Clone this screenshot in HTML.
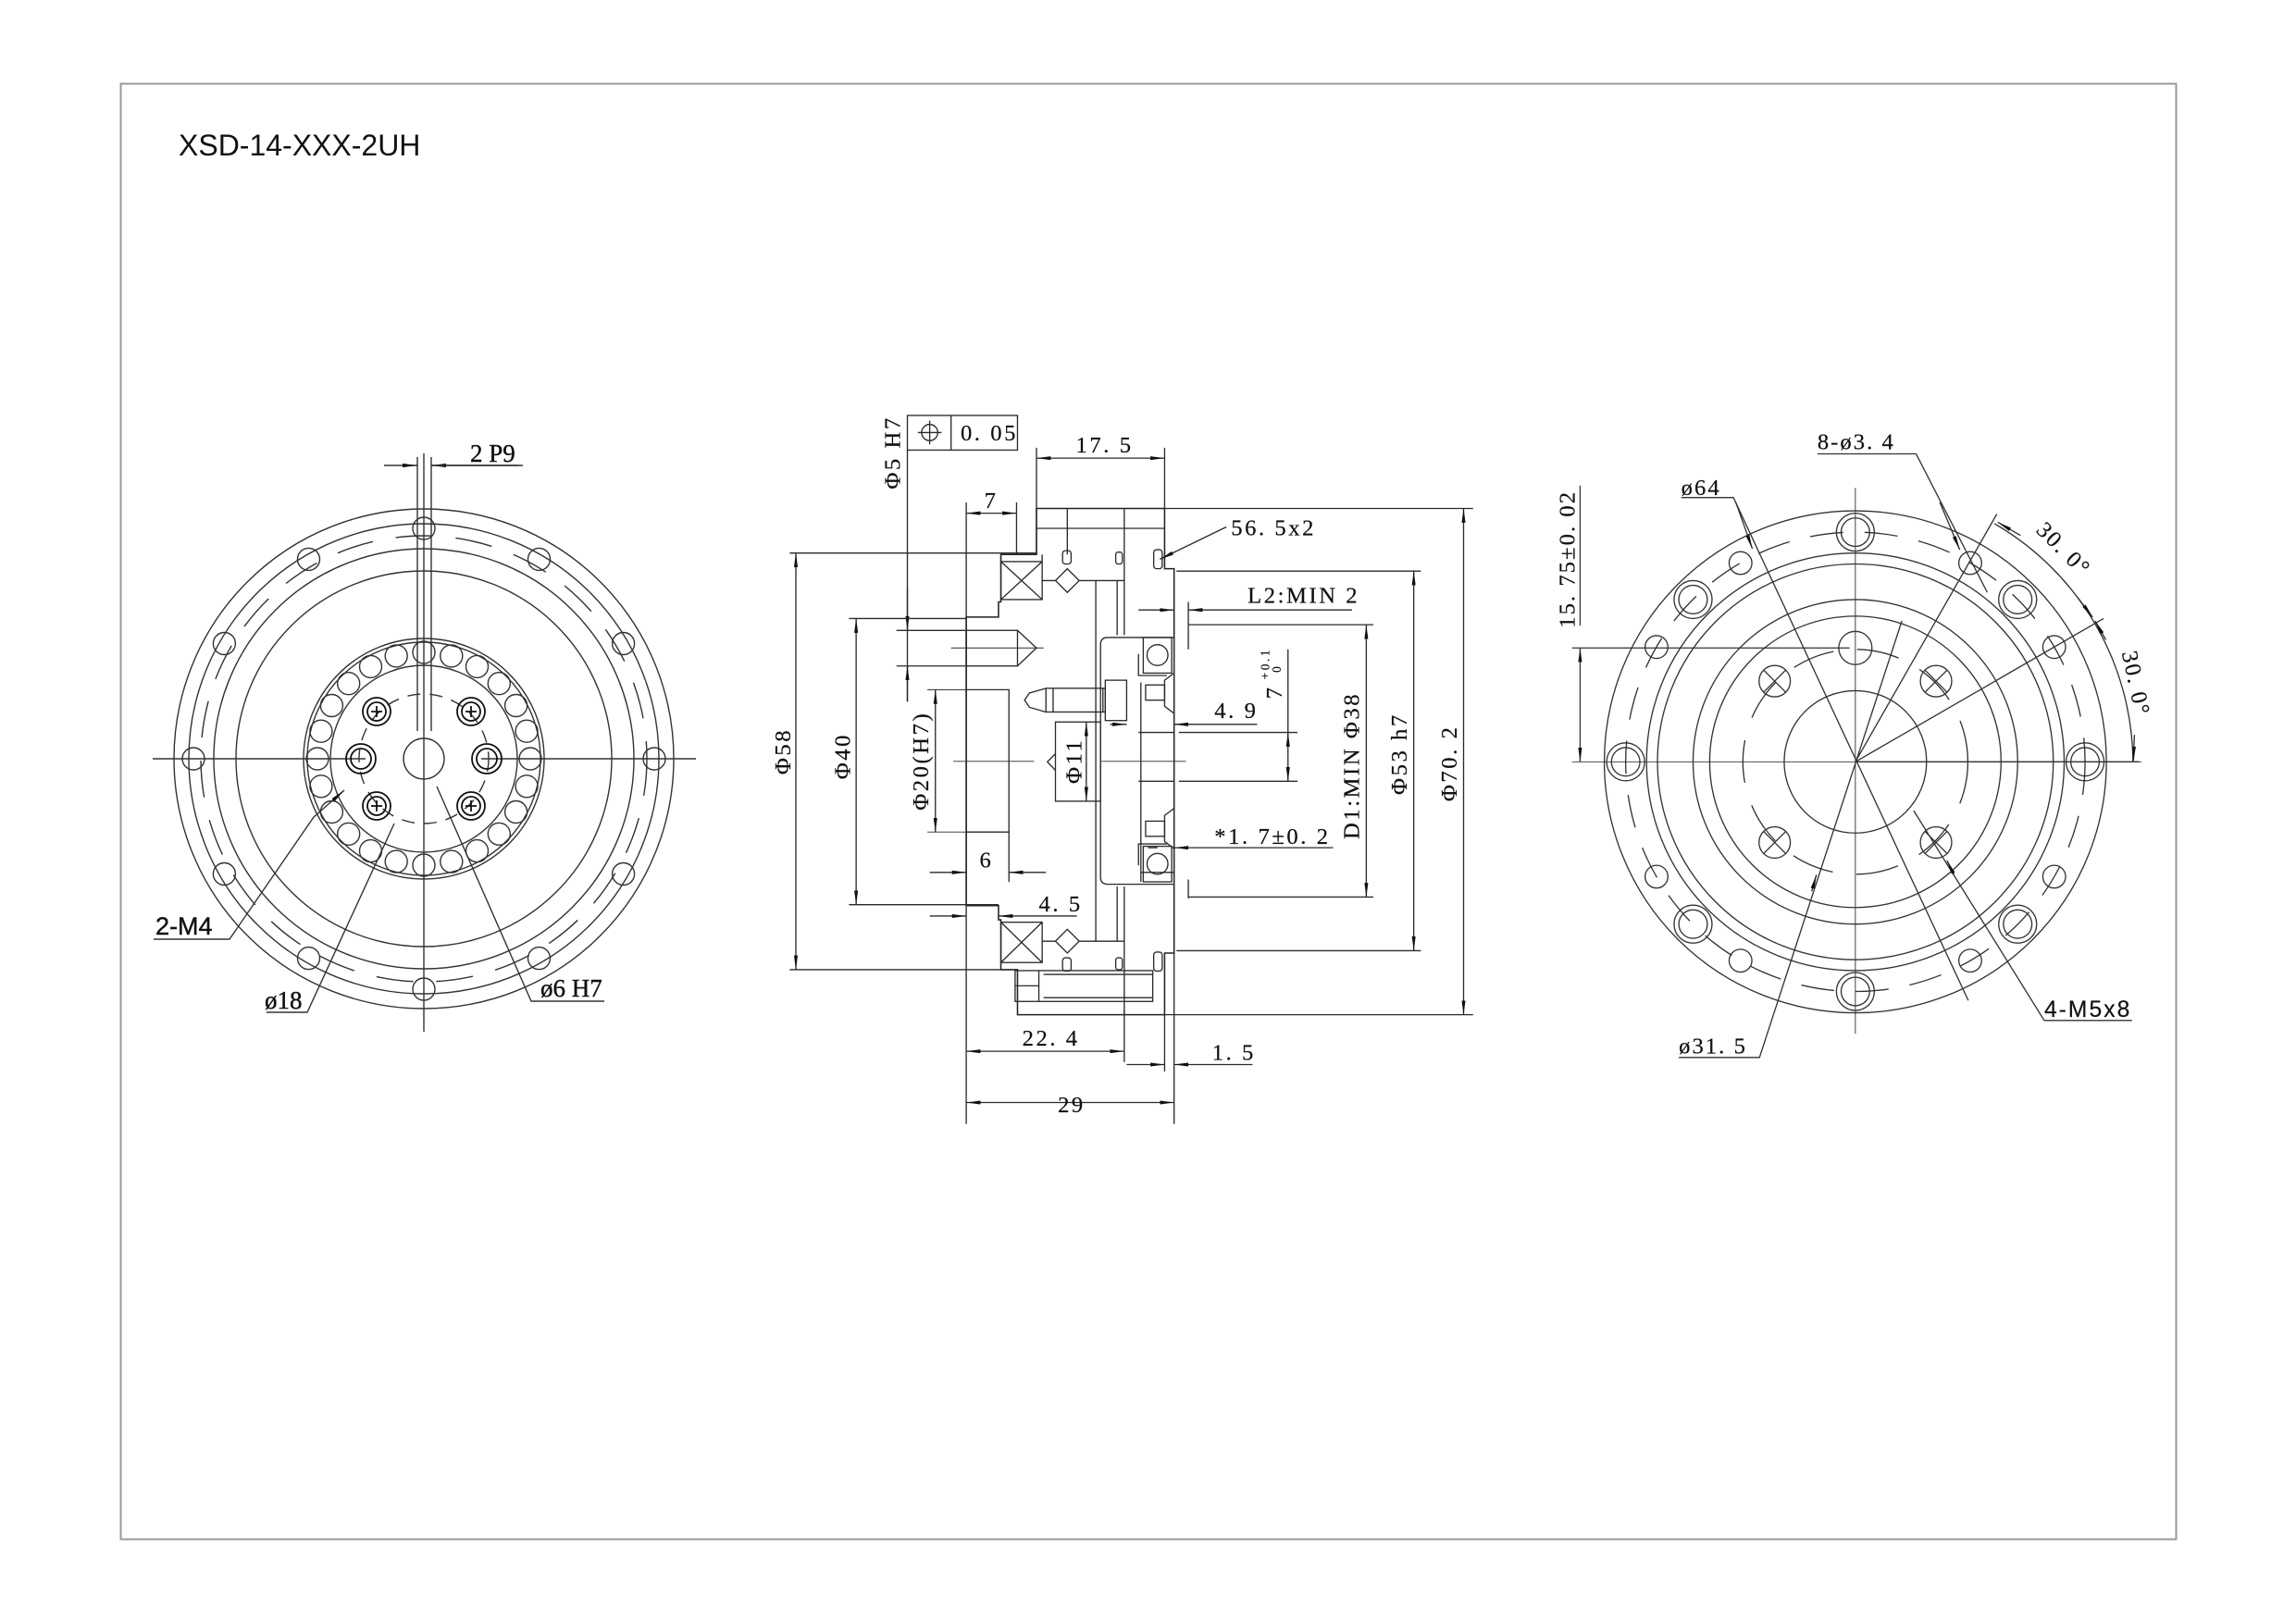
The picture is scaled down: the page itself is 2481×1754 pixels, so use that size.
<!DOCTYPE html>
<html><head><meta charset="utf-8"><style>
html,body{margin:0;padding:0;background:#fff;width:2481px;height:1754px;overflow:hidden}
svg{display:block}
text{font-family:"Liberation Serif",serif;fill:#111;stroke:#111;stroke-width:0.4}
</style></head><body>
<svg width="2481" height="1754" viewBox="0 0 2481 1754" xmlns="http://www.w3.org/2000/svg">
<defs>
<marker id="m" viewBox="0 0 30 8" refX="30" refY="4" markerWidth="30" markerHeight="8" markerUnits="userSpaceOnUse" orient="auto-start-reverse"><path d="M0,0 L30,4 L0,8z" fill="#111"/></marker>
<marker id="n" viewBox="0 0 30 8" refX="30" refY="4" markerWidth="16" markerHeight="4.5" markerUnits="userSpaceOnUse" orient="auto-start-reverse"><path d="M0,0 L30,4 L0,8z" fill="#111"/></marker>
</defs>
<rect x="130.5" y="90.5" width="2221" height="1573" fill="none" stroke="#999" stroke-width="2"/>
<text x="193" y="168" style="font-family:'Liberation Sans',sans-serif;font-size:32px;stroke-width:0">XSD-14-XXX-2UH</text>

<!-- LEFT VIEW -->
<g fill="none" stroke="#333" stroke-width="1.4">
<circle cx="458" cy="820" r="270"/>
<circle cx="458" cy="820" r="254"/>
<circle cx="458" cy="820" r="241" stroke-dasharray="40 25"/>
<circle cx="458" cy="820" r="227"/>
<circle cx="458" cy="820" r="203"/>
<circle cx="458" cy="820" r="130"/>
<circle cx="458" cy="820" r="126"/>
<circle cx="458" cy="820" r="101"/>
<circle cx="458" cy="820" r="70" stroke-dasharray="14 10"/>
<line x1="165" y1="820" x2="395" y2="820"/><line x1="520" y1="820" x2="752" y2="820"/>
<line x1="458" y1="490" x2="458" y2="1115"/>
<line x1="451" y1="494" x2="451" y2="790"/><line x1="466" y1="494" x2="466" y2="790"/>
<g>
<circle cx="458" cy="571" r="12"/><circle cx="582.5" cy="604.4" r="12"/><circle cx="673.6" cy="695.5" r="12"/><circle cx="707" cy="820" r="12"/><circle cx="673.6" cy="944.5" r="12"/><circle cx="582.5" cy="1035.6" r="12"/><circle cx="458" cy="1069" r="12"/><circle cx="333.5" cy="1035.6" r="12"/><circle cx="242.4" cy="944.5" r="12"/><circle cx="209" cy="820" r="12"/><circle cx="242.4" cy="695.5" r="12"/><circle cx="333.5" cy="604.4" r="12"/>
</g>
<g>
<circle cx="458" cy="705" r="12"/><circle cx="487.8" cy="708.9" r="12"/><circle cx="515.5" cy="720.4" r="12"/><circle cx="539.3" cy="738.7" r="12"/><circle cx="557.6" cy="762.5" r="12"/><circle cx="569.1" cy="790.2" r="12"/><circle cx="573" cy="820" r="12"/><circle cx="569.1" cy="849.8" r="12"/><circle cx="557.6" cy="877.5" r="12"/><circle cx="539.3" cy="901.3" r="12"/><circle cx="515.5" cy="919.6" r="12"/><circle cx="487.8" cy="931.1" r="12"/><circle cx="458" cy="935" r="12"/><circle cx="428.2" cy="931.1" r="12"/><circle cx="400.5" cy="919.6" r="12"/><circle cx="376.7" cy="901.3" r="12"/><circle cx="358.4" cy="877.5" r="12"/><circle cx="346.9" cy="849.8" r="12"/><circle cx="343" cy="820" r="12"/><circle cx="346.9" cy="790.2" r="12"/><circle cx="358.4" cy="762.5" r="12"/><circle cx="376.7" cy="738.7" r="12"/><circle cx="400.5" cy="720.4" r="12"/><circle cx="428.2" cy="708.9" r="12"/>
</g>
<g stroke="#111" stroke-width="1.8">
<circle cx="407" cy="769" r="15"/><circle cx="407" cy="769" r="10"/><path d="M401,769h12M407,763v12"/>
<circle cx="509" cy="769" r="15"/><circle cx="509" cy="769" r="10"/><path d="M503,769h12M509,763v12"/>
<circle cx="407" cy="871" r="15"/><circle cx="407" cy="871" r="10"/><path d="M401,871h12M407,865v12"/>
<circle cx="509" cy="871" r="15"/><circle cx="509" cy="871" r="10"/><path d="M503,871h12M509,865v12"/>
<circle cx="390" cy="820" r="16"/><circle cx="390" cy="820" r="11"/>
<circle cx="526" cy="820" r="16"/><circle cx="526" cy="820" r="11"/>
</g>
<circle cx="458" cy="820" r="22"/>
<line x1="415" y1="503" x2="451" y2="503" marker-end="url(#n)"/>
<line x1="560" y1="503" x2="466" y2="503" marker-end="url(#n)"/>
<line x1="466" y1="503" x2="565" y2="503"/>
<path d="M166,1015H248L339,883"/>
<path d="M288,1094H332L426,890"/>
<path d="M653,1082H574L472,850"/>
<line x1="339" y1="883" x2="372" y2="854" marker-end="url(#n)"/>
</g>
<g font-size="27">
<text x="508" y="499">2 P9</text>
<text x="168" y="1010" style="font-family:'Liberation Sans',sans-serif">2-M4</text>
<text x="286" y="1090">ø18</text>
<text x="584" y="1077">ø6 H7</text>
</g>

<!-- CENTER VIEW -->
<g transform="translate(820,430) scale(0.5128)" fill="none" stroke="#2a2a2a" stroke-width="2.6">
<rect x="313" y="37" width="232" height="73"/><line x1="405" y1="37" x2="405" y2="110"/>
<circle cx="360" cy="73" r="17"/><path d="M335,73h50M360,48v50"/>
<line x1="313" y1="110" x2="313" y2="640"/>
<line x1="313" y1="400" x2="313" y2="490" marker-end="url(#m)"/>
<line x1="313" y1="640" x2="313" y2="565" marker-end="url(#m)"/>
<path d="M290,490H437M290,565H437"/>
<path d="M585,105V235M855,105V235"/>
<line x1="585" y1="127" x2="855" y2="127" marker-start="url(#m)" marker-end="url(#m)"/>
<path d="M437,220V1530M543,220V330"/>
<line x1="437" y1="243" x2="543" y2="243" marker-start="url(#m)" marker-end="url(#m)"/>
<path d="M585,233H855V360H875V1170H855V1300H545V1205H510V1100H505V1070H437V462H505V430H510V330H585Z" stroke="#222" stroke-width="3"/>
<path d="M585,275H855M650,233V330M770,233V500M770,1030V1300M585,330V233"/>
<path d="M510,330V345M597,330V345"/>
<rect x="510" y="345" width="87" height="80"/><path d="M510,345L597,425M597,345L510,425"/>
<rect x="510" y="1105" width="87" height="85"/><path d="M510,1105L597,1190M597,1105L510,1190"/>
<path d="M597,385H625L650,360L675,385H710V1145H675L650,1170L625,1145H597"/>
<path d="M625,385L650,410L675,385M625,1145L650,1120L675,1145"/>
<rect x="640" y="322" width="18" height="28" rx="6"/><rect x="640" y="1180" width="18" height="28" rx="6"/>
<rect x="752" y="325" width="14" height="25" rx="5"/><rect x="752" y="1180" width="14" height="25" rx="5"/>
<rect x="832" y="320" width="18" height="40" rx="6"/><rect x="832" y="1168" width="18" height="40" rx="6"/>
<path d="M710,385H770M710,1145H770M755,385V500M755,1030V1145"/>
<path d="M735,505H875V1025H735Q720,1025 720,1010V520Q720,505 735,505Z"/>
<rect x="810" y="505" width="60" height="75"/><circle cx="840" cy="542" r="22"/>
<rect x="810" y="945" width="60" height="75"/><circle cx="840" cy="982" r="22"/>
<path d="M800,540V585H860M800,985V940H860"/>
<rect x="815" y="605" width="40" height="32"/><path d="M855,595L875,580V665L855,650Z"/>
<rect x="815" y="892" width="40" height="32"/><path d="M855,880L875,865V950L855,935Z"/>
<rect x="730" y="595" width="45" height="85"/>
<rect x="605" y="612" width="125" height="50"/><path d="M605,612L570,622L560,637L570,652L605,662"/>
<path d="M620,612V662M725,612V662"/>
<rect x="625" y="683" width="95" height="167"/><path d="M625,750L608,767L625,785"/>
<path d="M437,615H527V915H437"/>
<rect x="437" y="490" width="108" height="75"/><path d="M545,490L585,527L545,565"/>
<path d="M805,600V1020M800,705H875M800,808H875M805,1000H875"/>
<rect x="540" y="1207" width="290" height="65"/><path d="M590,1207V1272M540,1239H590M600,1215H830M600,1264H830"/>
<path d="M410,766H580M722,766H900M405,527H600M355,615H437M355,915H437" stroke-width="1.8"/>
<path d="M65,327H585M65,1205H510M190,465H437M190,1068H505"/>
<line x1="78" y1="766" x2="78" y2="327" marker-end="url(#m)"/><line x1="78" y1="766" x2="78" y2="1205" marker-end="url(#m)"/>
<line x1="205" y1="766" x2="205" y2="465" marker-end="url(#m)"/><line x1="205" y1="766" x2="205" y2="1068" marker-end="url(#m)"/>
<line x1="372" y1="766" x2="372" y2="615" marker-end="url(#m)"/><line x1="372" y1="766" x2="372" y2="915" marker-end="url(#m)"/>
<line x1="690" y1="766" x2="690" y2="683" marker-end="url(#m)"/><line x1="690" y1="766" x2="690" y2="850" marker-end="url(#m)"/>
<path d="M527,915V1020"/>
<line x1="360" y1="1000" x2="437" y2="1000" marker-end="url(#m)"/><line x1="605" y1="1000" x2="527" y2="1000" marker-end="url(#m)"/>
<line x1="360" y1="1092" x2="437" y2="1092" marker-end="url(#m)"/><line x1="670" y1="1092" x2="505" y2="1092" marker-end="url(#m)"/>
<path d="M770,1290V1400M855,1300V1420M875,1170V1530"/>
<line x1="437" y1="1377" x2="770" y2="1377" marker-start="url(#m)" marker-end="url(#m)"/>
<line x1="775" y1="1405" x2="855" y2="1405" marker-end="url(#m)"/><line x1="1040" y1="1405" x2="875" y2="1405" marker-end="url(#m)"/>
<line x1="437" y1="1485" x2="875" y2="1485" marker-start="url(#m)" marker-end="url(#m)"/>
<path d="M855,233H1505M855,1300H1505M880,365H1395M880,1165H1395M905,478H1295M905,1052H1295M885,705H1135M885,808H1135"/>
<path d="M905,430V530M905,1015V1055"/>
<line x1="1485" y1="766" x2="1485" y2="233" marker-end="url(#m)"/><line x1="1485" y1="766" x2="1485" y2="1300" marker-end="url(#m)"/>
<line x1="1380" y1="766" x2="1380" y2="365" marker-end="url(#m)"/><line x1="1380" y1="766" x2="1380" y2="1165" marker-end="url(#m)"/>
<line x1="1280" y1="766" x2="1280" y2="478" marker-end="url(#m)"/><line x1="1280" y1="766" x2="1280" y2="1052" marker-end="url(#m)"/>
<line x1="1115" y1="530" x2="1115" y2="705" /><line x1="1115" y1="760" x2="1115" y2="705" marker-end="url(#m)"/><line x1="1115" y1="760" x2="1115" y2="808" marker-end="url(#m)"/>
<line x1="800" y1="447" x2="875" y2="447" marker-end="url(#m)"/><line x1="1250" y1="447" x2="905" y2="447" marker-end="url(#m)"/>
<line x1="1050" y1="688" x2="875" y2="688" marker-end="url(#m)"/><line x1="740" y1="688" x2="775" y2="688" marker-end="url(#m)"/>
<line x1="1210" y1="948" x2="875" y2="948" marker-end="url(#m)"/><line x1="820" y1="948" x2="840" y2="948"/>
<line x1="985" y1="272" x2="845" y2="340" marker-end="url(#m)"/>
</g>
<g transform="translate(820,430) scale(0.5128)" font-size="48" letter-spacing="5" style="stroke-width:0.9">
<text x="668" y="115">17. 5</text>
<text x="475" y="232">7</text>
<text x="995" y="290">56. 5x2</text>
<text x="1030" y="432">L2:MIN 2</text>
<text x="960" y="675">4. 9</text>
<text x="960" y="940">*1. 7±0. 2</text>
<text x="465" y="990">6</text>
<text x="590" y="1082">4. 5</text>
<text x="555" y="1365">22. 4</text>
<text x="955" y="1395">1. 5</text>
<text x="630" y="1505">29</text>
<text x="425" y="90">0. 05</text>
<text transform="translate(297,115) rotate(-90)" text-anchor="middle">Φ5 H7</text>
<text transform="translate(66,745) rotate(-90)" text-anchor="middle">Φ58</text>
<text transform="translate(192,755) rotate(-90)" text-anchor="middle">Φ40</text>
<text transform="translate(357,765) rotate(-90)" text-anchor="middle">Φ20(H7)</text>
<text transform="translate(680,765) rotate(-90)" text-anchor="middle">Φ11</text>
<text transform="translate(1102,620) rotate(-90)" text-anchor="middle">7</text>
<text transform="translate(1075,560) rotate(-90)" text-anchor="middle" font-size="26">+0.1</text>
<text transform="translate(1100,570) rotate(-90)" text-anchor="middle" font-size="26">0</text>
<text transform="translate(1265,775) rotate(-90)" text-anchor="middle">D1:MIN Φ38</text>
<text transform="translate(1365,750) rotate(-90)" text-anchor="middle">Φ53 h7</text>
<text transform="translate(1470,770) rotate(-90)" text-anchor="middle">Φ70. 2</text>
</g>

<!-- RIGHT VIEW -->
<g transform="translate(1650,430) scale(0.5128)" fill="none" stroke="#333" stroke-width="2.6">
<circle cx="692" cy="767" r="529"/>
<circle cx="692" cy="767" r="484" stroke-dasharray="70 45"/>
<circle cx="692" cy="767" r="440"/>
<circle cx="692" cy="767" r="417"/>
<circle cx="692" cy="767" r="342"/>
<circle cx="692" cy="767" r="307"/>
<circle cx="692" cy="767" r="237" stroke-dasharray="90 50"/>
<circle cx="692" cy="767" r="150"/>
<path d="M95,767H1295M692,190V1340" stroke-width="1.8"/>
<g>
<circle cx="692" cy="283" r="40"/><circle cx="692" cy="283" r="30"/>
<circle cx="1034" cy="425" r="40"/><circle cx="1034" cy="425" r="30"/>
<circle cx="1176" cy="767" r="40"/><circle cx="1176" cy="767" r="30"/>
<circle cx="1034" cy="1109" r="40"/><circle cx="1034" cy="1109" r="30"/>
<circle cx="692" cy="1251" r="40"/><circle cx="692" cy="1251" r="30"/>
<circle cx="350" cy="1109" r="40"/><circle cx="350" cy="1109" r="30"/>
<circle cx="208" cy="767" r="40"/><circle cx="208" cy="767" r="30"/>
<circle cx="350" cy="425" r="40"/><circle cx="350" cy="425" r="30"/>
</g>
<g>
<circle cx="934" cy="348" r="24"/><circle cx="1111" cy="525" r="24"/><circle cx="1111" cy="1009" r="24"/><circle cx="934" cy="1186" r="24"/><circle cx="450" cy="1186" r="24"/><circle cx="273" cy="1009" r="24"/><circle cx="273" cy="525" r="24"/><circle cx="450" cy="348" r="24"/>
</g>
<g>
<circle cx="522" cy="597" r="33"/><circle cx="862" cy="597" r="33"/><circle cx="522" cy="937" r="33"/><circle cx="862" cy="937" r="33"/>
<path d="M498,573L546,621M546,573L498,621M838,573L886,621M886,573L838,621M498,913L546,961M546,913L498,961M838,913L886,961M886,913L838,961"/>
<circle cx="692" cy="527" r="35"/>
</g>
<path d="M95,527H680M112,185V480"/>
<line x1="112" y1="640" x2="112" y2="527" marker-end="url(#m)"/><line x1="112" y1="640" x2="112" y2="767" marker-end="url(#m)"/>
<path d="M612,118H820L970,410"/>
<line x1="870" y1="220" x2="912" y2="320" marker-end="url(#m)"/>
<path d="M325,210H435L930,1270"/>
<line x1="440" y1="220" x2="475" y2="318" marker-end="url(#m)"/>
<path d="M1275,1312H1090L815,870"/>
<line x1="900" y1="1005" x2="885" y2="975" marker-end="url(#m)"/>
<path d="M320,1390H490L790,470"/>
<line x1="600" y1="1040" x2="610" y2="1005" marker-end="url(#m)"/>
<path d="M692,767L990,245M692,767L1215,465M692,767H1290"/>
<path d="M985,265A585,585 0 0 1 1277,767"/>
<line x1="1040" y1="290" x2="992" y2="262" marker-end="url(#m)"/>
<line x1="1160" y1="420" x2="1192" y2="462" marker-end="url(#m)"/>
<line x1="1220" y1="510" x2="1197" y2="470" marker-end="url(#m)"/>
<line x1="1280" y1="710" x2="1278" y2="765" marker-end="url(#m)"/>
</g>
<g transform="translate(1650,430) scale(0.5128)" font-size="48" letter-spacing="4" style="stroke-width:0.9">
<text x="612" y="108">8-ø3. 4</text>
<text x="325" y="205">ø64</text>
<text x="1090" y="1305" style="font-family:'Liberation Sans',sans-serif">4-M5x8</text>
<text x="320" y="1382">ø31. 5</text>
<text transform="translate(100,340) rotate(-90)" text-anchor="middle">15. 75±0. 02</text>
<text transform="translate(1120,330) rotate(45)" text-anchor="middle">30. 0°</text>
<text transform="translate(1268,605) rotate(78)" text-anchor="middle">30. 0°</text>
</g>
</svg>
</body></html>
